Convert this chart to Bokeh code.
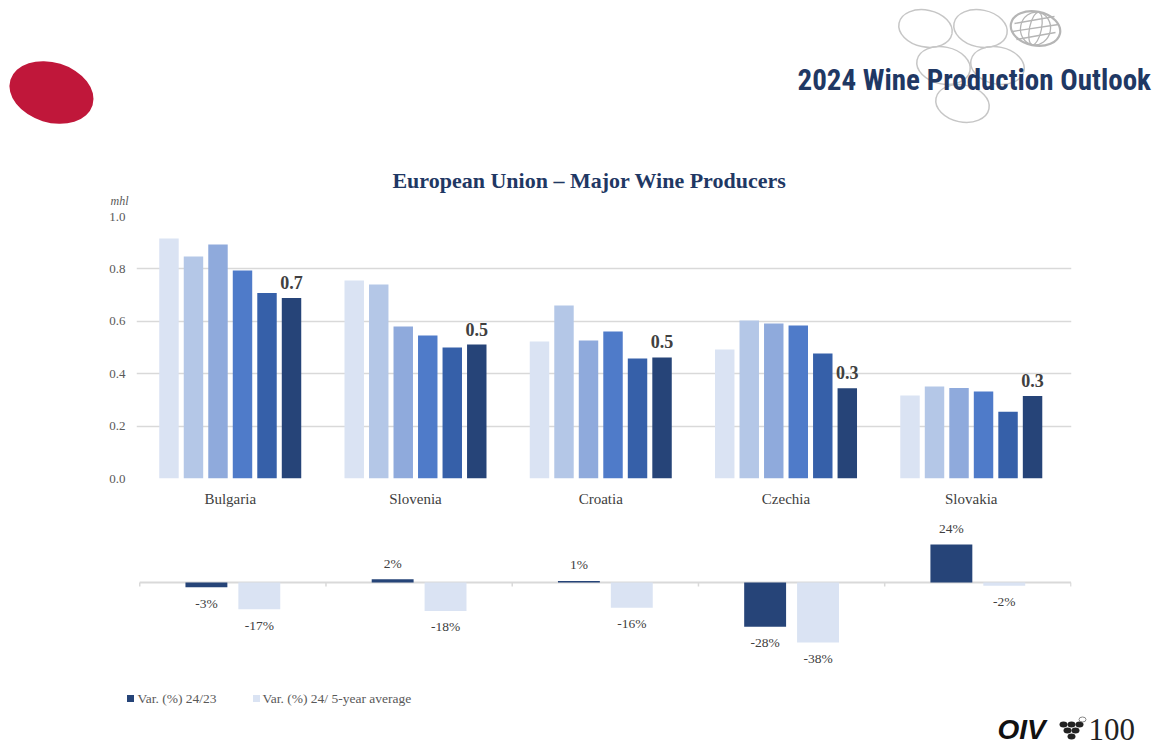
from bokeh.plotting import figure
from bokeh.models import Range1d, ColumnDataSource, NumeralTickFormatter, FixedTicker
from bokeh.transform import dodge
from bokeh.layouts import column
from bokeh.embed import file_html
from bokeh.resources import INLINE
from bokeh.core.properties import value

# ---------------- data ----------------
countries = ["Bulgaria", "Slovenia", "Croatia", "Czechia", "Slovakia"]
years = ["2019", "2020", "2021", "2022", "2023", "2024"]
prod_2019 = [0.916, 0.756, 0.523, 0.492, 0.317]
prod_2020 = [0.847, 0.740, 0.660, 0.603, 0.351]
prod_2021 = [0.893, 0.580, 0.527, 0.592, 0.345]
prod_2022 = [0.794, 0.546, 0.561, 0.584, 0.332]
prod_2023 = [0.708, 0.500, 0.458, 0.477, 0.255]
prod_2024 = [0.689, 0.511, 0.462, 0.344, 0.315]
y_ticks = [0.0, 0.2, 0.4, 0.6, 0.8, 1.0]

var_names = ["Var. (%) 24/23", "Var. (%) 24/ 5-year average"]
var_24_23 = [-3, 2, 1, -28, 24]
var_24_5y = [-17, -18, -16, -38, -2]

# ---------------- styles / layout ----------------
W = 1154
FL, FR = 136, 1071          # shared frame edges (page pixels)
BL, BR = FL, W - FR
bar_colors = ["#DAE3F3", "#B4C7E7", "#8FAADC", "#4F7BC9", "#3660A9", "#264478"]
var_colors = ["#264478", "#DAE3F3"]
navy = "#1F3864"
serif = value("Liberation Serif")
idx = list(range(len(countries)))


def blank(fig):
    fig.axis.visible = False
    fig.grid.visible = False
    fig.outline_line_color = None
    fig.background_fill_color = None
    fig.border_fill_color = None


def free(r):
    r.level = "overlay"
    return r


# ---------------- header (page-pixel coordinates) ----------------
h = figure(width=W, height=208, x_range=Range1d(FL, FR), y_range=Range1d(208, 0),
           output_backend="svg", toolbar_location=None,
           min_border_left=BL, min_border_right=BR, min_border_top=0, min_border_bottom=0)
blank(h)
free(h.ellipse(x=[51], y=[92], width=86, height=60, angle=-0.3,
               fill_color="#C0173A", line_color=None))
free(h.ellipse(x=[925, 980, 943, 997, 962], y=[28, 28, 65, 65, 103], width=54, height=37,
               angle=-0.2, fill_color=None, line_color="#C6C6C6", line_width=1.5))
free(h.ellipse(x=[1035], y=[28], width=50, height=34, angle=-0.2,
               fill_color=None, line_color="#B5B5B5", line_width=2.2))
free(h.ellipse(x=[1035, 1035], y=[28, 28], width=[30, 12], height=[33, 33], angle=-0.2,
               fill_color=None, line_color="#B5B5B5", line_width=1.3))
free(h.segment(x0=[1014, 1012, 1016], y0=[23, 31, 39], x1=[1054, 1058, 1055], y1=[16, 24, 32],
               line_color="#B5B5B5", line_width=1.3))
free(h.text(x=[797], y=[79], text=["2024 Wine Production Outlook"],
            text_font=value("Roboto Condensed"), text_font_style="bold",
            text_font_size="29px", text_color=navy, text_baseline="middle", text_align="left"))
free(h.text(x=[589], y=[180], text=["European Union \u2013 Major Wine Producers"],
            text_font=serif, text_font_style="bold", text_font_size="22px",
            text_color=navy, text_baseline="middle", text_align="center"))
free(h.text(x=[110], y=[200], text=["mhl"], text_font=serif, text_font_style="italic",
            text_font_size="12px", text_color="#595959", text_baseline="middle",
            text_align="left"))

# ---------------- main chart ----------------
src = ColumnDataSource(dict(idx=idx, y2019=prod_2019, y2020=prod_2020,
                           y2021=prod_2021, y2022=prod_2022, y2023=prod_2023,
                           y2024=prod_2024,
                           lab=[f"{v:.1f}" for v in prod_2024]))
p = figure(width=W, height=310, x_range=Range1d(-0.506, 4.541),
           y_range=Range1d(0, 1.0), output_backend="svg", toolbar_location=None,
           min_border_left=BL, min_border_right=BR, min_border_top=8, min_border_bottom=40)
p.outline_line_color = None
pitch = 0.1323
for i, yr in enumerate(years):
    p.vbar(x=dodge("idx", (i - 2.5) * pitch), top="y" + yr,
           width=0.105, source=src, fill_color=bar_colors[i], line_color=None)
p.text(x=dodge("idx", 2.5 * pitch), y="y2024", text="lab", source=src,
       text_font=serif, text_font_style="bold", text_font_size="18px",
       text_color="#404040", text_align="center", text_baseline="bottom", y_offset=-9)
p.xgrid.visible = False
p.ygrid.ticker = y_ticks
p.ygrid.grid_line_color = "#D9D9D9"
p.ygrid.grid_line_width = 1.5
p.yaxis.ticker = y_ticks
p.yaxis.formatter = NumeralTickFormatter(format="0.0")
p.xaxis.ticker = FixedTicker(ticks=idx)
p.xaxis.major_label_overrides = {i: c for i, c in zip(idx, countries)}
for ax in (p.xaxis, p.yaxis):
    ax.axis_line_color = None
    ax.major_tick_line_color = None
    ax.minor_tick_line_color = None
    ax.major_tick_out = 0
    ax.major_tick_in = 0
    ax.major_label_text_font = "Liberation Serif"
p.yaxis.major_label_text_font_size = "13px"
p.yaxis.major_label_text_color = "#595959"
p.yaxis.major_label_standoff = 11
p.xaxis.major_label_text_font_size = "15px"
p.xaxis.major_label_text_color = "#404040"
p.xaxis.major_label_standoff = 12

# ---------------- variation chart ----------------
vsrc = ColumnDataSource(dict(
    idx=idx, a=var_24_23, b=var_24_5y,
    la=[f"{v}%" for v in var_24_23], lb=[f"{v}%" for v in var_24_5y],
    oa=[-16 if v >= 0 else 16 for v in var_24_23],
    ob=[-16 if v >= 0 else 16 for v in var_24_5y]))
q = figure(width=W, height=158, x_range=Range1d(-0.5174, 4.503),
           y_range=Range1d(-58.2, 39.2), output_backend="svg", toolbar_location=None,
           min_border_left=BL, min_border_right=BR, min_border_top=2, min_border_bottom=2)
blank(q)
bounds = [i - 0.5 for i in range(len(countries) + 1)]
q.segment(x0=[bounds[0]], y0=[0], x1=[bounds[-1]], y1=[0], line_color="#D9D9D9", line_width=2)
q.segment(x0=bounds, y0=0, x1=bounds, y1=-2.6, line_color="#D9D9D9", line_width=1.5)
for key, lab, off, dx, c in (("a", "la", "oa", -0.142, var_colors[0]),
                             ("b", "lb", "ob", 0.142, var_colors[1])):
    q.vbar(x=dodge("idx", dx), top=key, bottom=0, width=0.225,
           source=vsrc, fill_color=c, line_color=None)
    q.text(x=dodge("idx", dx), y=key, text=lab, y_offset=off,
           source=vsrc, text_font=serif, text_font_size="13.5px", text_color="#404040",
           text_align="center", text_baseline="middle")

# ---------------- footer (page-pixel coordinates) ----------------
f = figure(width=W, height=70, x_range=Range1d(FL, FR), y_range=Range1d(746, 676),
           output_backend="svg", toolbar_location=None,
           min_border_left=BL, min_border_right=BR, min_border_top=0, min_border_bottom=0)
blank(f)
free(f.rect(x=[130, 256], y=[698, 698], width=7, height=7, fill_color=var_colors,
            line_color=None))
free(f.text(x=[137, 262], y=[698, 698], text=var_names, text_font=serif,
            text_font_size="13.5px", text_color="#595959", text_baseline="middle",
            text_align="left"))
free(f.text(x=[997], y=[729], text=["OIV"], text_font=value("Liberation Sans"),
            text_font_style="bold italic", text_font_size="28px", text_color="#111111",
            text_baseline="middle", text_align="left"))
free(f.ellipse(x=[1063, 1071, 1079, 1067, 1075, 1071], y=[724, 724, 724, 730, 730, 736],
               width=8, height=6, fill_color="#222222", line_color=None))
free(f.ellipse(x=[1082], y=[719], width=7, height=5, fill_color=None, line_color="#888888"))
free(f.text(x=[1088], y=[729], text=["100"], text_font=serif, text_font_size="31px",
            text_color="#222222", text_baseline="middle", text_align="left"))

layout = column(h, p, q, f, spacing=0)
open("out.html", "w").write(file_html(layout, INLINE))
